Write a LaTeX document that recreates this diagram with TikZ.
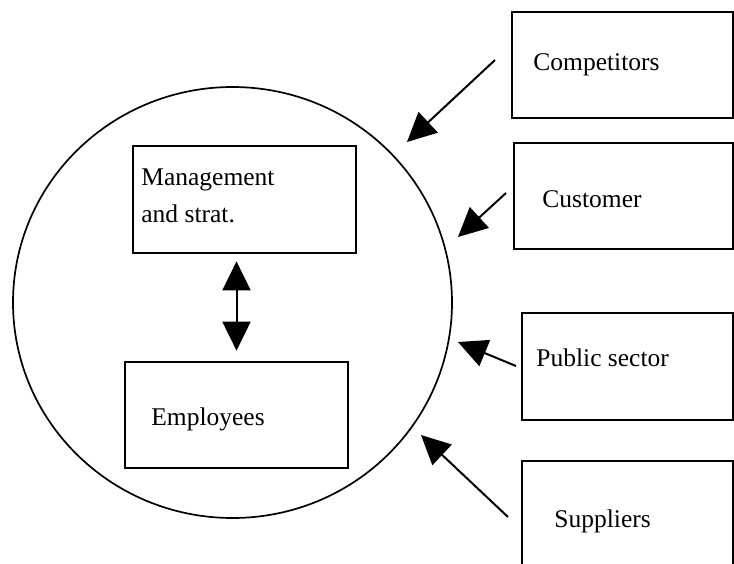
\documentclass[tikz,border=0pt]{standalone}
\usepackage{fontspec}
\setmainfont{Liberation Serif}
\usetikzlibrary{arrows.meta,shapes.geometric}
\tikzset{
  box/.style={draw, line width=1.35pt, inner sep=0pt},
  lbl/.style={anchor=base west, inner sep=0pt, align=left, font=\fontsize{12.75}{18.5}\selectfont},
  arr/.style={-{Triangle[length=14.5pt,width=14pt]}, line width=1pt},
  dbl/.style={{Triangle[length=14.5pt,width=14pt]}-{Triangle[length=14.5pt,width=14pt]}, line width=1pt}
}
\begin{document}
\begin{tikzpicture}[x=0.5pt,y=-0.5pt]
  \useasboundingbox (0,0) rectangle (734,563);
  \clip (0,0) rectangle (734,563);
  % the firm
  \node[draw, ellipse, line width=0.85pt, inner sep=0pt, minimum width=219.5pt, minimum height=215.5pt] (firm) at (232.5,302.5) {};
  \node[box, minimum width=111.5pt, minimum height=53.5pt] (mgmt) at (244.5,199.5) {};
  \node[lbl] (mgmtlbl) at (141,222) {Management\\and strat.};
  \node[box, minimum width=111.5pt, minimum height=53pt] (emp) at (236.5,415) {};
  \node[lbl] (emplbl) at (151,425) {Employees};
  \draw[dbl, shorten <=3.5pt, shorten >=5pt] (emp.north |- mgmt.south) -- (emp.north);
  % surroundings
  \node[box, minimum width=110.5pt, minimum height=53pt] (comp) at (622.5,65) {};
  \node[lbl] (complbl) at (533,70) {Competitors};
  \node[box, minimum width=109.5pt, minimum height=53pt] (cust) at (623.5,196) {};
  \node[lbl] (custlbl) at (542,207) {Customer};
  \node[box, minimum width=105.5pt, minimum height=53.5pt] (pub) at (627.5,366.5) {};
  \node[lbl] (publbl) at (536,366) {Public sector};
  \node[box, minimum width=105.5pt, minimum height=53.5pt] (supp) at (627.5,514.5) {};
  \node[lbl] (supplbl) at (554,527) {Suppliers};
  % arrows towards the firm
  \coordinate (compfrom) at (495,60);
  \coordinate (compto) at (407,142);
  \coordinate (custfrom) at (506,193);
  \coordinate (custto) at (458,237);
  \coordinate (pubfrom) at (516,366);
  \coordinate (pubto) at (458,342);
  \coordinate (suppfrom) at (508,517);
  \coordinate (suppto) at (421,435);
  \draw[arr] (compfrom) -- (compto);
  \draw[arr] (custfrom) -- (custto);
  \draw[arr] (pubfrom) -- (pubto);
  \draw[arr] (suppfrom) -- (suppto);
\end{tikzpicture}
\end{document}
